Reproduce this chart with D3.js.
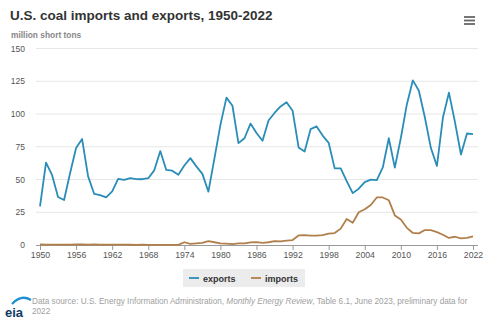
<!DOCTYPE html>
<html>
<head>
<script src="https://cdn.jsdelivr.net/npm/d3@7"></script>
<style>
  body { margin: 0; background: #fff; font-family: "Liberation Sans", Arial, sans-serif; }
  svg text { font-family: "Liberation Sans", Arial, sans-serif; }
</style>
</head>
<body>
<svg id="chart" width="491" height="325"></svg>
<script>
// years 1950..2022
var years = d3.range(1950, 2023);

var exportsData = [
  29.4, 62.9, 53.5, 36.6, 34.3, 54.8, 74.0, 80.9, 52.4, 39.1,
  38.0, 36.4, 40.9, 50.5, 49.7, 51.0, 50.3, 50.2, 51.0, 57.0,
  71.7, 57.3, 56.7, 53.6, 60.7, 66.3, 60.0, 54.3, 40.7, 66.0,
  91.7, 112.5, 106.3, 77.8, 81.5, 92.7, 85.5, 79.6, 95.0, 100.8,
  105.8, 109.0, 102.5, 74.5, 71.4, 88.5, 90.5, 83.5, 78.0, 58.5,
  58.5, 48.7, 39.6, 43.0, 48.0, 49.9, 49.6, 59.2, 81.5, 59.1,
  81.7, 107.3, 125.7, 117.7, 97.3, 74.0, 60.3, 97.3, 116.3, 93.8,
  69.1, 85.1, 84.6
];

var importsData = [
  0.4, 0.3, 0.3, 0.3, 0.2, 0.3, 0.4, 0.4, 0.3, 0.4,
  0.3, 0.2, 0.3, 0.3, 0.3, 0.2, 0.1, 0.2, 0.1, 0.1,
  0.04, 0.1, 0.05, 0.1, 2.1, 0.9, 1.2, 1.6, 3.0, 2.1,
  1.2, 1.0, 0.7, 1.3, 1.3, 2.0, 2.2, 1.7, 2.1, 2.9,
  2.7, 3.4, 3.8, 7.3, 7.6, 7.2, 7.1, 7.5, 8.7, 9.1,
  12.5, 19.8, 16.9, 25.0, 27.3, 30.5, 36.3, 36.3, 34.2, 22.6,
  19.4, 13.1, 9.2, 8.9, 11.4, 11.3, 9.8, 7.8, 5.4, 6.3,
  5.1, 5.4, 6.5
];

var yTicks = [0, 25, 50, 75, 100, 125, 150];
var xTicks = d3.range(1950, 2023, 6);

var seriesNames = ["exports", "imports"];
var seriesColors = ["#2a8db8", "#b07f4b"];

var svg = d3.select("#chart");

var x = d3.scaleLinear().domain([1950, 2022]).range([40, 473]);
var y = d3.scaleLinear().domain([0, 150]).range([245, 48.5]);

// title
svg.append("text")
  .attr("x", 10).attr("y", 20)
  .attr("font-size", 13.5).attr("font-weight", "bold").attr("fill", "#333")
  .text("U.S. coal imports and exports, 1950-2022");

svg.append("text")
  .attr("x", 11).attr("y", 38)
  .attr("font-size", 8.4).attr("font-weight", "bold").attr("fill", "#888")
  .text("million short tons");

// hamburger
[17, 20.5, 24].forEach(function(yy) {
  svg.append("line")
    .attr("x1", 464).attr("x2", 475).attr("y1", yy).attr("y2", yy)
    .attr("stroke", "#666").attr("stroke-width", 1.8);
});

// grid
svg.append("g").selectAll("line")
  .data(yTicks.filter(function(d) { return d > 0; }))
  .enter().append("line")
  .attr("x1", 36).attr("x2", 478)
  .attr("y1", function(d) { return y(d); })
  .attr("y2", function(d) { return y(d); })
  .attr("stroke", "#e6e6e6").attr("stroke-width", 1);

svg.append("g").selectAll("text")
  .data(yTicks)
  .enter().append("text")
  .attr("x", 25)
  .attr("y", function(d) { return y(d) + 3; })
  .attr("text-anchor", "end")
  .attr("font-size", 8.5).attr("fill", "#555")
  .text(function(d) { return d; });

// x axis
var xAxis = d3.axisBottom(x).tickValues(xTicks).tickSize(5).tickFormat(d3.format("d"));
var gx = svg.append("g")
  .attr("transform", "translate(0," + y(0) + ")")
  .call(xAxis);
gx.select(".domain").attr("d", "M36,0.5H478").attr("stroke", "#999");
gx.selectAll(".tick line").attr("stroke", "#999");
gx.selectAll(".tick text").attr("font-size", 8.7).attr("fill", "#555").attr("dy", "0.6em");

// lines
var line = d3.line()
  .x(function(d, i) { return x(years[i]); })
  .y(function(d) { return y(d); });

[exportsData, importsData].forEach(function(s, k) {
  svg.append("path")
    .datum(s)
    .attr("fill", "none")
    .attr("stroke", seriesColors[k])
    .attr("stroke-width", 1.8)
    .attr("stroke-linejoin", "round")
    .attr("d", line);
});

// legend
svg.append("rect")
  .attr("x", 183).attr("y", 269).attr("width", 122).attr("height", 18)
  .attr("fill", "#ececec");
var legX = [189, 251];
seriesNames.forEach(function(n, k) {
  svg.append("line")
    .attr("x1", legX[k]).attr("x2", legX[k] + 10)
    .attr("y1", 278).attr("y2", 278)
    .attr("stroke", seriesColors[k]).attr("stroke-width", 1.8);
  svg.append("text")
    .attr("x", legX[k] + 14).attr("y", 281.5)
    .attr("font-size", 9).attr("font-weight", "bold").attr("fill", "#333")
    .text(n);
});

// eia logo
svg.append("path")
  .attr("d", "M12,304 Q21,294 31,300")
  .attr("fill", "none").attr("stroke", "#1e8fd0").attr("stroke-width", 2.2);
svg.append("text")
  .attr("x", 5).attr("y", 317)
  .attr("font-size", 13).attr("font-weight", "bold").attr("fill", "#0f3b66")
  .text("eia");

// source note
var src = svg.append("text")
  .attr("x", 32).attr("y", 304)
  .attr("font-size", 8.2).attr("fill", "#a0a0a0");
src.append("tspan").text("Data source: U.S. Energy Information Administration, ");
src.append("tspan").attr("font-style", "italic").text("Monthly Energy Review");
src.append("tspan").text(", Table 6.1, June 2023, preliminary data for");
svg.append("text")
  .attr("x", 32).attr("y", 314)
  .attr("font-size", 8.2).attr("fill", "#a0a0a0")
  .text("2022");
</script>
</body>
</html>
